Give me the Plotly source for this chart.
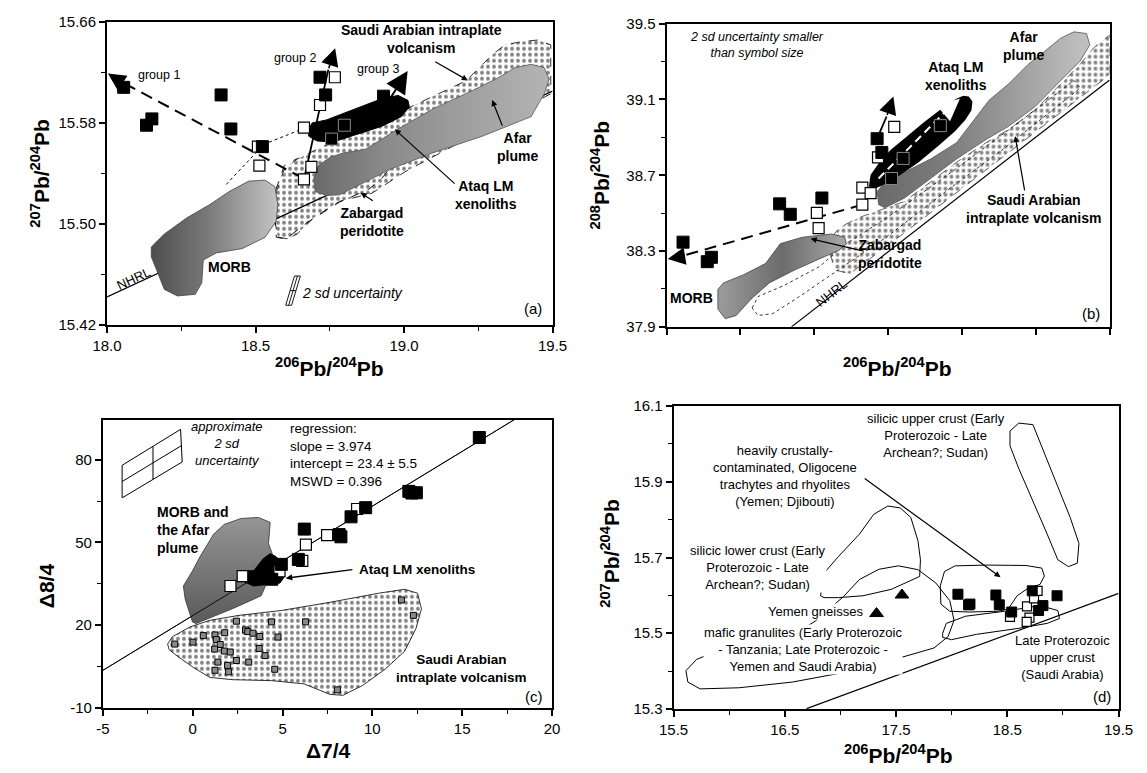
import plotly.graph_objects as go

W, H = 1147, 773
FONT = "Liberation Sans, Arial, Helvetica, sans-serif"

# ---------------- panel (a): 207Pb/204Pb vs 206Pb/204Pb ----------------
a_blk_x = [18.056, 18.133, 18.151, 18.384, 18.417, 18.523, 18.717, 18.736, 18.931]
a_blk_y = [15.608, 15.578, 15.583, 15.602, 15.575, 15.561, 15.616, 15.602, 15.601]
a_blk_in_x = [18.799, 18.756]
a_blk_in_y = [15.578, 15.567]
a_open_x = [18.767, 18.717, 18.663, 18.508, 18.513, 18.688, 18.663]
a_open_y = [15.616, 15.594, 15.576, 15.561, 15.546, 15.545, 15.535]

a_morb_x = [18.149, 18.193, 18.269, 18.346, 18.411, 18.477, 18.532, 18.565, 18.575, 18.570,
            18.532, 18.455, 18.368, 18.324, 18.319, 18.297, 18.237, 18.193, 18.171, 18.149]
a_morb_y = [15.4815, 15.4918, 15.5047, 15.5151, 15.5254, 15.5337, 15.5345, 15.5293, 15.5151, 15.5022,
            15.4892, 15.4802, 15.4768, 15.4712, 15.4531, 15.4440, 15.4427, 15.4479, 15.4608, 15.4737]
a_afar_x = [18.701, 18.696, 18.712, 18.750, 18.794, 18.870, 18.991, 19.100, 19.231, 19.319, 19.373,
            19.428, 19.472, 19.488, 19.472, 19.428, 19.264, 19.100, 18.958, 18.870, 18.783, 18.739]
a_afar_y = [15.5254, 15.5358, 15.5461, 15.5525, 15.5559, 15.5590, 15.5766, 15.5913, 15.6055, 15.6158, 15.6236,
            15.6262, 15.6236, 15.6145, 15.6029, 15.5848, 15.5693, 15.5564, 15.5435, 15.5332, 15.5228, 15.5223]
a_saudi_x = [18.608, 18.575, 18.565, 18.570, 18.597, 18.641, 18.707, 18.783, 18.892, 19.023, 19.209, 19.297,
             19.340, 19.395, 19.450, 19.494, 19.494, 19.330, 19.166, 19.002, 18.892, 18.783, 18.696, 18.641]
a_saudi_y = [15.4880, 15.4892, 15.5022, 15.5254, 15.5435, 15.5512, 15.5590, 15.5667, 15.5745, 15.5926, 15.6132, 15.6339,
             15.6417, 15.6442, 15.6455, 15.6417, 15.6029, 15.5822, 15.5616, 15.5409, 15.5241, 15.5177, 15.5047, 15.4919]
a_ataq_x = [18.679, 18.690, 18.739, 18.838, 18.925, 18.980, 19.013, 19.018, 18.991, 18.925, 18.838, 18.761, 18.707, 18.679]
a_ataq_y = [15.5745, 15.5797, 15.5822, 15.5913, 15.5990, 15.6016, 15.5977, 15.5926, 15.5848, 15.5771, 15.5706, 15.5647, 15.5655, 15.5693]
a_zab_x = [19.100, 19.002, 18.925, 18.881, 18.783, 18.674, 18.603, 18.570, 18.565, 18.570, 18.597, 18.641]
a_zab_y = [15.5848, 15.5590, 15.5358, 15.5272, 15.5171, 15.5009, 15.4880, 15.4892, 15.5047, 15.5280, 15.5461, 15.5517]
a_nhrl_x = [18.0, 19.5]
a_nhrl_y = [15.442, 15.605]
a_g1_x = [18.660, 18.035]
a_g1_y = [15.536, 15.614]
a_g2_x = [18.663, 18.700, 18.717, 18.745]
a_g2_y = [15.535, 15.575, 15.594, 15.622]
a_tie1_x = [18.508, 18.663, 18.700]
a_tie1_y = [15.561, 15.576, 15.579]
a_tie2_x = [18.505, 18.401]
a_tie2_y = [15.557, 15.531]
a_unc_x = [18.6016, 18.6213, 18.6508, 18.6311, 18.6016]
a_unc_y = [15.4353, 15.4353, 15.4585, 15.4585, 15.4353]

# ---------------- panel (b): 208Pb/204Pb vs 206Pb/204Pb ----------------
b_blk_x = [18.056, 18.138, 18.152, 18.383, 18.419, 18.526, 18.713, 18.729]
b_blk_y = [38.347, 38.244, 38.267, 38.549, 38.494, 38.580, 38.893, 38.820]
b_blk_in_x = [18.801, 18.762, 18.927]
b_blk_in_y = [38.789, 38.683, 38.962]
b_open_x = [18.509, 18.515, 18.663, 18.691, 18.663, 18.716, 18.771]
b_open_y = [38.502, 38.421, 38.635, 38.606, 38.545, 38.794, 38.955]

b_morb_x = [18.174, 18.193, 18.261, 18.336, 18.385, 18.460, 18.559, 18.603, 18.609, 18.584,
            18.534, 18.435, 18.348, 18.286, 18.236, 18.199, 18.174]
b_morb_y = [38.098, 38.132, 38.175, 38.235, 38.339, 38.373, 38.390, 38.373, 38.339, 38.304,
            38.270, 38.201, 38.132, 38.046, 37.960, 37.943, 37.994]
b_afar_x = [18.718, 18.713, 18.740, 18.806, 18.894, 18.982, 19.049, 19.092, 19.158, 19.224, 19.280, 19.334,
            19.379, 19.422, 19.433, 19.400, 19.334, 19.247, 19.158, 19.082, 18.982, 18.894, 18.806, 18.740]
b_afar_y = [38.545, 38.614, 38.665, 38.717, 38.786, 38.872, 39.010, 39.096, 39.182, 39.285, 39.354, 39.423,
            39.457, 39.448, 39.388, 39.302, 39.199, 39.061, 38.958, 38.889, 38.786, 38.683, 38.580, 38.528]
b_saudi_x = [18.559, 18.586, 18.652, 18.729, 18.806, 18.894, 18.982, 19.082, 19.158, 19.247, 19.334, 19.400,
             19.445, 19.500, 19.500, 19.300, 19.100, 18.900, 18.750, 18.620, 18.570, 18.553]
b_saudi_y = [38.373, 38.425, 38.477, 38.519, 38.562, 38.665, 38.769, 38.872, 38.941, 39.044, 39.182, 39.285,
             39.371, 39.440, 39.230, 38.990, 38.750, 38.510, 38.330, 38.180, 38.200, 38.290]
b_zab_x = [18.29, 18.31, 18.40, 18.52, 18.60, 18.75, 18.95, 19.15, 19.38, 19.40, 19.15, 18.95, 18.75,
           18.58, 18.45, 18.36, 18.31, 18.29]
b_zab_y = [38.00, 38.06, 38.12, 38.22, 38.33, 38.48, 38.70, 38.93, 39.20, 39.16, 38.85, 38.62, 38.38,
           38.20, 38.06, 37.97, 37.96, 38.00]
b_ataq_x = [18.688, 18.693, 18.720, 18.760, 18.806, 18.872, 18.938, 18.982, 19.005, 19.022, 19.033, 19.030,
            19.010, 18.975, 18.916, 18.850, 18.785, 18.729, 18.700]
b_ataq_y = [38.640, 38.700, 38.760, 38.830, 38.889, 38.975, 39.055, 39.100, 39.116, 39.112, 39.088, 39.045,
            38.995, 38.935, 38.855, 38.769, 38.700, 38.650, 38.630]
b_nhrl_x = [18.423, 19.5]
b_nhrl_y = [37.9, 39.203]
b_g1_x = [18.663, 18.04]
b_g1_y = [38.545, 38.268]
b_g2_x = [18.713, 18.745]
b_g2_y = [38.893, 39.010]
b_white_x = [18.718, 18.960]
b_white_y = [38.683, 39.061]

# ---------------- panel (c): delta 8/4 vs delta 7/4 ----------------
c_blk_x = [15.954, 12.03, 12.20, 12.45, 9.626, 8.813, 8.15, 8.25, 6.21, 5.88, 4.93, 3.4, 4.0, 4.4]
c_blk_y = [88.07, 68.5, 67.9, 68.0, 62.58, 59.27, 52.8, 52.0, 54.8, 43.8, 42.0, 37.5, 38.5, 36.6]
c_open_x = [9.15, 7.48, 6.30, 6.10, 4.83, 2.78, 2.10]
c_open_y = [62.1, 52.6, 49.2, 43.3, 39.5, 37.7, 34.15]
c_sa_x = [-1.003, 0.011, 0.586, 1.237, 1.779, 1.312, 1.529, 1.763, 2.088, 1.220, 2.430, 2.939, 3.064, 3.352,
          3.731, 4.382, 4.745, 3.699, 4.024, 2.430, 3.118, 1.399, 1.941, 1.237, 1.996, 4.566, 6.280, 11.616,
          12.283, 8.053]
c_sa_y = [13.06, 13.77, 16.13, 16.37, 17.19, 14.69, 12.91, 10.53, 10.18, 11.24, 21.37, 18.18, 17.58, 17.01,
          15.82, 21.13, 15.60, 11.48, 8.87, 7.10, 6.51, 6.51, 5.33, 3.55, 2.98, 3.91, 21.13, 29.07, 23.48, -3.56]
c_morb_x = [-0.016, -0.423, -0.521, -0.027, 0.407, 0.786, 1.166, 1.762, 2.684, 3.660, 4.311, 4.219, 4.420,
            4.517, 4.219, 3.812, 2.202, 0.786, 0.184]
c_morb_y = [21.10, 29.42, 34.15, 39.48, 44.81, 49.08, 52.99, 56.54, 58.67, 59.03, 57.25, 49.54, 45.98,
            41.26, 36.53, 30.59, 25.86, 22.31, 20.53]
c_ataq_x = [2.901, 3.389, 3.932, 4.311, 4.637, 5.016, 5.125, 4.854, 4.203, 3.389]
c_ataq_y = [35.57, 39.48, 44.10, 45.88, 44.81, 41.97, 37.70, 35.21, 34.86, 34.15]
c_saudi_x = [-1.399, -1.128, -0.136, 0.949, 2.576, 4.924, 7.636, 10.347, 11.795, 12.516, 12.733, 12.430,
             11.795, 10.710, 9.447, 8.362, 7.636, 6.193, 4.382, 2.213, 0.949, 0.044, -0.856, -1.312]
c_saudi_y = [13.06, 15.76, 19.32, 21.69, 23.48, 25.25, 28.21, 31.53, 32.95, 31.53, 25.84, 18.73,
             10.44, 3.93, -2.00, -5.55, -5.20, -1.39, -0.21, 0.13, 0.96, 4.52, 8.66, 11.02]
c_slope, c_intercept = 3.974, 23.4
c_fit_x = [-5.0, 17.9]
c_unc_x = [-3.932, -3.932, -0.678, -0.586, -3.932]
c_unc_y = [66.14, 77.97, 91.02, 79.18, 66.14]
c_unc_v_x = [-2.213, -2.213]
c_unc_v_y = [84.86, 72.84]
c_unc_h_x = [-3.932, -0.632]
c_unc_h_y = [72.06, 85.10]

# ---------------- panel (d): 207Pb/204Pb vs 206Pb/204Pb, crustal fields ----------------
d_blk_x = [18.056, 18.152, 18.164, 18.397, 18.428, 18.539, 18.724, 18.781, 18.820, 18.947]
d_blk_y = [15.603, 15.575, 15.577, 15.601, 15.575, 15.556, 15.612, 15.560, 15.573, 15.599]
d_open_x = [18.524, 18.677, 18.740, 18.772, 18.699, 18.674]
d_open_y = [15.543, 15.571, 15.592, 15.612, 15.541, 15.530]
d_gneiss_x = [17.553, 17.324]
d_gneiss_y = [15.601, 15.552]
d_upper_x = [18.524, 18.603, 18.730, 18.794, 18.921, 19.065, 19.144, 19.129, 19.049, 18.954, 18.858,
             18.730, 18.603, 18.524]
d_upper_y = [16.034, 16.055, 16.051, 16.004, 15.909, 15.806, 15.737, 15.685, 15.676, 15.694, 15.762,
             15.849, 15.935, 15.995]
d_lower_x = [16.821, 16.853, 16.980, 17.171, 17.299, 17.426, 17.537, 17.632, 17.696, 17.719, 17.712,
             17.617, 17.457, 17.203, 16.980, 16.853]
d_lower_y = [15.599, 15.659, 15.702, 15.762, 15.814, 15.836, 15.831, 15.806, 15.745, 15.694, 15.650,
             15.638, 15.616, 15.599, 15.594, 15.594]
d_mafic_x = [15.834, 15.707, 15.611, 15.628, 15.739, 16.089, 16.567, 17.044, 17.521, 17.840, 17.967,
             18.021, 17.983, 17.856, 17.696, 17.521, 17.346, 17.171, 17.028, 16.773, 16.567, 16.089]
d_mafic_y = [15.446, 15.431, 15.401, 15.371, 15.353, 15.356, 15.371, 15.397, 15.434, 15.461, 15.491,
             15.534, 15.586, 15.633, 15.668, 15.678, 15.669, 15.642, 15.597, 15.532, 15.494, 15.461]
d_trach_x = [17.897, 17.935, 18.031, 18.317, 18.667, 18.810, 18.833, 18.794, 18.683, 18.588, 18.508,
             18.412, 18.158, 17.983, 17.903]
d_trach_y = [15.625, 15.663, 15.678, 15.680, 15.679, 15.672, 15.651, 15.629, 15.618, 15.599, 15.564,
             15.558, 15.556, 15.558, 15.577]
d_lpuc_x = [17.919, 17.951, 18.126, 18.476, 18.794, 18.954, 18.969, 18.858, 18.603, 18.222, 17.998, 17.919]
d_lpuc_y = [15.500, 15.526, 15.545, 15.558, 15.573, 15.560, 15.539, 15.526, 15.513, 15.497, 15.483, 15.489]
d_nhrl_x = [16.696, 19.5]
d_nhrl_y = [15.301, 15.605]

# ---------------- layout geometry (pixel frame of each panel) ----------------
PAN = {'a': (94.5, 552.0, 13.0, 322.7), 'b': (669.0, 1124.0, 15.0, 325.0),
       'c': (90.3, 551.4, 420.0, 714.3), 'd': (676.3, 1133.2, 406.0, 715.7)}
AX = {'a': ('x', 'y'), 'b': ('x2', 'y2'), 'c': ('x3', 'y3'), 'd': ('x4', 'y4')}

fig = go.Figure()
ann = []


def closed(v):
    return list(v) + [v[0]]


def poly(p, x, y, **kw):
    xa, ya = AX[p]
    fig.add_trace(go.Scatter(x=closed(x), y=closed(y), mode='lines', fill='toself', xaxis=xa, yaxis=ya,
                             hoverinfo='skip', showlegend=False, **kw))


def line(p, x, y, color='black', width=1, dash='solid', close=False):
    xa, ya = AX[p]
    xs, ys = (closed(x), closed(y)) if close else (x, y)
    fig.add_trace(go.Scatter(x=xs, y=ys, mode='lines', xaxis=xa, yaxis=ya, hoverinfo='skip',
                             showlegend=False, line=dict(color=color, width=width, dash=dash)))


def pts(p, x, y, symbol='square', size=12, color='black', lc='black', lw=1):
    xa, ya = AX[p]
    fig.add_trace(go.Scatter(x=x, y=y, mode='markers', xaxis=xa, yaxis=ya, hoverinfo='skip', showlegend=False,
                             marker=dict(symbol=symbol, size=size, color=color, line=dict(color=lc, width=lw))))


def dom(p, px, py):
    L, R, T, B = PAN[p]
    return (px - L) / (R - L), (B - py) / (B - T)


def text(p, px, py, s, size=13, bold=False, italic=False, align='center', xanchor='center', angle=0, bg=None):
    fx, fy = dom(p, px, py)
    xa, ya = AX[p]
    if bold:
        s = '<b>' + s.replace('<br>', '</b><br><b>') + '</b>'
    if italic:
        s = '<i>' + s.replace('<br>', '</i><br><i>') + '</i>'
    d = dict(x=fx, y=fy, xref=xa + ' domain', yref=ya + ' domain', text=s, showarrow=False,
             font=dict(family=FONT, size=size, color='black'), align=align, xanchor=xanchor,
             yanchor='middle', textangle=angle, borderpad=0)
    if bg:
        d['bgcolor'] = bg
    ann.append(d)


def leader(p, tx, ty, hx, hy, head=2, asize=1.0, width=1.2, color='black'):
    fx, fy = dom(p, hx, hy)
    gx, gy = dom(p, tx, ty)
    xa, ya = AX[p]
    ann.append(dict(x=fx, y=fy, ax=gx, ay=gy, xref=xa + ' domain', yref=ya + ' domain',
                    axref=xa + ' domain', ayref=ya + ' domain', text='', showarrow=True,
                    arrowhead=head, arrowsize=asize, arrowwidth=width, arrowcolor=color, standoff=0))


def data_arrow(p, x0, y0, x1, y1, asize=2.2, width=1.6, color='black'):
    xa, ya = AX[p]
    ann.append(dict(x=x1, y=y1, ax=x0, ay=y0, xref=xa, yref=ya, axref=xa, ayref=ya, text='',
                    showarrow=True, arrowhead=2, arrowsize=asize, arrowwidth=width,
                    arrowcolor=color, standoff=0))


DOTS = dict(shape='.', bgcolor='white', fgcolor='black', size=6, solidity=0.32)

# ---- panel (a) ----
poly('a', a_saudi_x, a_saudi_y, fillpattern=DOTS, line=dict(color='black', width=0.8, dash='dash'))
line('a', a_zab_x, a_zab_y, width=0.9, dash='dash')
line('a', a_nhrl_x, a_nhrl_y, width=1.2)
poly('a', a_morb_x, a_morb_y, line=dict(color='#444', width=0.8),
     fillgradient=dict(type='horizontal', colorscale=[[0, '#4e4e4e'], [0.45, '#7a7a7a'], [1, '#c4c4c4']]))
poly('a', a_afar_x, a_afar_y, line=dict(color='#555', width=0.8),
     fillgradient=dict(type='horizontal', colorscale=[[0, '#6a6a6a'], [0.3, '#8a8a8a'], [1, '#b4b4b4']]))
poly('a', a_ataq_x, a_ataq_y, fillcolor='black', line=dict(color='black', width=1))
line('a', a_tie1_x, a_tie1_y, width=1, dash='dot')
line('a', a_tie2_x, a_tie2_y, width=1, dash='dot')
line('a', a_g1_x, a_g1_y, width=2, dash='12px,7px')
line('a', a_g2_x, a_g2_y, width=1.8)
line('a', a_unc_x, a_unc_y, width=0.9)
line('a', [18.6115, 18.6410], [15.4353, 15.4585], width=0.9)
line('a', [18.6164, 18.6361], [15.4469, 15.4469], width=0.9)
pts('a', a_open_x, a_open_y, color='white', size=11, lw=1.2)
pts('a', a_blk_x, a_blk_y, size=12)
pts('a', a_blk_in_x, a_blk_in_y, size=12, lc='#888', lw=1)
data_arrow('a', 18.045, 15.6125, 18.003, 15.619)
data_arrow('a', 18.745, 15.622, 18.768, 15.639)
data_arrow('a', 18.95, 15.598, 19.012, 15.621, width=2)

text('a', 148, 67, 'group 1', size=12.5)
text('a', 288, 50, 'group 2', size=12.5)
text('a', 373, 61, 'group 3', size=12.5)
text('a', 417, 31, 'Saudi Arabian intraplate<br>volcanism', size=14, bold=True)
leader('a', 430, 53, 465, 73)
text('a', 516, 141, 'Afar<br>plume', size=14, bold=True)
leader('a', 501, 121, 490, 93)
text('a', 484, 190, 'Ataq LM<br>xenoliths', size=14, bold=True)
leader('a', 453, 180, 390, 123)
text('a', 367, 218, 'Zabargad<br>peridotite', size=14, bold=True)
leader('a', 369, 197, 355, 188)
text('a', 220, 264, 'MORB', size=14, bold=True)
text('a', 122, 276, 'NHRL', size=13, angle=-25)
text('a', 347, 290, '2 sd uncertainty', size=14, italic=True)
text('a', 532, 306, '(a)', size=15)

# ---- panel (b) ----
poly('b', b_saudi_x, b_saudi_y, fillpattern=DOTS, line=dict(color='black', width=0.6, dash='dash'))
line('b', b_zab_x, b_zab_y, width=0.8, dash='dot')
line('b', b_nhrl_x, b_nhrl_y, width=1.2)
poly('b', b_morb_x, b_morb_y, line=dict(color='#444', width=0.8),
     fillgradient=dict(type='horizontal', colorscale=[[0, '#9c9c9c'], [0.5, '#6c6c6c'], [1, '#a8a8a8']]))
poly('b', b_afar_x, b_afar_y, line=dict(color='#555', width=0.8),
     fillgradient=dict(type='horizontal', colorscale=[[0, '#6a6a6a'], [0.35, '#7e7e7e'], [1, '#c2c2c2']]))
poly('b', b_ataq_x, b_ataq_y, fillcolor='black', line=dict(color='black', width=1.5))
line('b', b_g1_x, b_g1_y, width=2, dash='12px,7px')
line('b', b_g2_x, b_g2_y, width=1.8)
line('b', b_white_x, b_white_y, color='white', width=2, dash='8px,5px')
pts('b', b_open_x, b_open_y, color='white', size=11, lw=1.2)
pts('b', b_blk_x, b_blk_y, size=12)
pts('b', b_blk_in_x, b_blk_in_y, size=12, lc='#888', lw=1)
data_arrow('b', 18.05, 38.27, 18.004, 38.258)
data_arrow('b', 18.745, 39.010, 18.768, 39.116)
data_arrow('b', 18.960, 39.061, 18.993, 39.104, color='white', width=2)

text('b', 762, 37, '2 sd uncertainty smaller<br>than symbol size', size=12.5, italic=True)
text('b', 1036, 38, 'Afar<br>plume', size=14, bold=True)
text('b', 966, 68, 'Ataq LM<br>xenoliths', size=14, bold=True)
text('b', 1046, 205, 'Saudi Arabian<br>intraplate volcanism', size=14, bold=True)
leader('b', 1037, 187, 1027, 130)
text('b', 898, 251, 'Zabargad<br>peridotite', size=14, bold=True)
leader('b', 873, 248, 817, 235)
text('b', 695, 295, 'MORB', size=14, bold=True)
text('b', 838, 291, 'NHRL', size=13, angle=-38)
text('b', 1105, 311, '(b)', size=15)

# ---- panel (c) ----
poly('c', c_saudi_x, c_saudi_y, fillpattern=DOTS, line=dict(color='black', width=0.8))
line('c', c_fit_x, [c_slope * v + c_intercept for v in c_fit_x], width=0.9)
poly('c', c_morb_x, c_morb_y, line=dict(color='#333', width=0.8),
     fillgradient=dict(type='vertical', colorscale=[[0, '#5a5a5a'], [1, '#959595']]))
line('c', c_fit_x, [c_slope * v + c_intercept for v in c_fit_x], width=0.9)
poly('c', c_ataq_x, c_ataq_y, fillcolor='black', line=dict(color='black', width=1))
line('c', c_unc_x, c_unc_y, width=1)
line('c', c_unc_v_x, c_unc_v_y, width=1)
line('c', c_unc_h_x, c_unc_h_y, width=1)
pts('c', c_sa_x, c_sa_y, size=6, color='#8a8a8a', lw=1)
pts('c', c_open_x, c_open_y, color='white', size=11, lw=1.2)
pts('c', c_blk_x, c_blk_y, size=12)

text('c', 218, 444, 'approximate<br>2 sd<br>uncertainty', size=13, italic=True)
text('c', 281, 456, 'regression:<br>slope = 3.974<br>intercept = 23.4 ± 5.5<br>MSWD = 0.396',
     size=13.5, align='left', xanchor='left')
text('c', 145, 533, 'MORB and<br>the Afar<br>plume', size=14, bold=True, align='left', xanchor='left')
text('c', 413, 573, 'Ataq LM xenoliths', size=13.5, bold=True)
leader('c', 348, 573, 278, 582, width=1.3)
text('c', 458, 674, 'Saudi Arabian<br>intraplate volcanism', size=13.5, bold=True)
text('c', 533, 703, '(c)', size=15)

# ---- panel (d) ----
line('d', d_nhrl_x, d_nhrl_y, width=1.3)
line('d', d_upper_x, d_upper_y, width=1, close=True)
line('d', d_lower_x, d_lower_y, width=1, close=True)
line('d', d_mafic_x, d_mafic_y, width=1, close=True)
line('d', d_trach_x, d_trach_y, width=1, close=True)
line('d', d_lpuc_x, d_lpuc_y, width=1, close=True)
pts('d', d_open_x, d_open_y, color='white', size=9, lw=1.2)
pts('d', d_blk_x, d_blk_y, size=10)
pts('d', d_gneiss_x, d_gneiss_y, symbol='triangle-up', size=12)

text('d', 946, 436, 'silicic upper crust (Early<br>Proterozoic - Late<br>Archean?; Sudan)')
text('d', 791, 478, 'heavily crustally-<br>contaminated, Oligocene<br>trachytes and rhyolites<br>(Yemen; Djibouti)')
leader('d', 871, 479, 1012, 581)
text('d', 763, 571, 'silicic lower crust (Early<br>Proterozoic - Late<br>Archean?; Sudan)', bg='white')
text('d', 822, 616, 'Yemen gneisses', bg='white')
text('d', 809, 655, 'mafic granulites (Early Proterozoic<br>- Tanzania; Late Proterozoic -<br>Yemen and Saudi Arabia)',
     bg='white')
text('d', 1076, 663, 'Late Proterozoic<br>upper crust<br>(Saudi Arabia)')
text('d', 1116, 703, '(d)', size=15)

# ---- axis titles ----
def ptitle(px, py, s, angle=0, size=21):
    ann.append(dict(x=px / W, y=1 - py / H, xref='paper', yref='paper', text=s, showarrow=False,
                    textangle=angle, xanchor='center', yanchor='middle',
                    font=dict(family=FONT, size=size, color='black')))


PB64 = '<b><sup>206</sup>Pb/<sup>204</sup>Pb</b>'
ptitle(323, 366, PB64)
ptitle(26, 168, '<b><sup>207</sup>Pb/<sup>204</sup>Pb</b>', angle=-90)
ptitle(906, 366, PB64)
ptitle(601, 170, '<b><sup>208</sup>Pb/<sup>204</sup>Pb</b>', angle=-90)
ptitle(322, 758, '<b>Δ7/4</b>')
ptitle(32, 590, '<b>Δ8/4</b>', angle=-90)
ptitle(907, 762, PB64)
ptitle(611, 557, '<b><sup>207</sup>Pb/<sup>204</sup>Pb</b>', angle=-90)


def axis(p, which, rng, **kw):
    L, R, T, B = PAN[p]
    if which == 'x':
        d = [L / W, R / W]
        anchor = AX[p][1]
    else:
        d = [1 - B / H, 1 - T / H]
        anchor = AX[p][0]
    base = dict(domain=d, range=rng, anchor=anchor, showgrid=False, zeroline=False, showline=True,
                linecolor='black', linewidth=2, mirror=True, ticks='outside', ticklen=6, tickwidth=1.6,
                tickcolor='black', tickfont=dict(family=FONT, size=15, color='black'), fixedrange=True)
    base.update(kw)
    return base


MINOR = dict(ticks='outside', ticklen=4, tickwidth=1.3, tickcolor='black', showgrid=False)

fig.update_layout(
    width=W, height=H, margin=dict(l=0, r=0, t=0, b=0),
    paper_bgcolor='white', plot_bgcolor='white', showlegend=False,
    xaxis=axis('a', 'x', [18.0, 19.5], tickvals=[18.0, 18.5, 19.0, 19.5],
               ticktext=['18.0', '18.5', '19.0', '19.5'], minor=dict(MINOR, tickvals=[18.25, 18.75, 19.25])),
    yaxis=axis('a', 'y', [15.42, 15.66], tickvals=[15.42, 15.50, 15.58, 15.66],
               ticktext=['15.42', '15.50', '15.58', '15.66'], minor=dict(MINOR, tickvals=[15.46, 15.54, 15.62])),
    xaxis2=axis('b', 'x', [18.0, 19.5], tickvals=[18.0, 18.25, 18.5, 18.75, 19.0, 19.25, 19.5],
                showticklabels=False),
    yaxis2=axis('b', 'y', [37.9, 39.5], tickvals=[37.9, 38.3, 38.7, 39.1, 39.5],
                ticktext=['37.9', '38.3', '38.7', '39.1', '39.5'], minor=dict(MINOR, tickvals=[38.1, 38.5, 38.9, 39.3])),
    xaxis3=axis('c', 'x', [-5, 20], tickvals=[-5, 0, 5, 10, 15, 20],
                ticktext=['-5', '0', '5', '10', '15', '20'], minor=dict(MINOR, tickvals=[-2.5, 2.5, 7.5, 12.5, 17.5])),
    yaxis3=axis('c', 'y', [-10, 94.5], tickvals=[-10, 20, 50, 80],
                ticktext=['-10', '20', '50', '80'], minor=dict(MINOR, tickvals=[5, 35, 65])),
    xaxis4=axis('d', 'x', [15.5, 19.5], tickvals=[15.5, 16.5, 17.5, 18.5, 19.5],
                ticktext=['15.5', '16.5', '17.5', '18.5', '19.5'], minor=dict(MINOR, tickvals=[16.0, 17.0, 18.0, 19.0])),
    yaxis4=axis('d', 'y', [15.3, 16.1], tickvals=[15.3, 15.5, 15.7, 15.9, 16.1],
                ticktext=['15.3', '15.5', '15.7', '15.9', '16.1'], minor=dict(MINOR, tickvals=[15.4, 15.6, 15.8, 16.0])),
    annotations=ann,
)

fig.write_html("out.html")
